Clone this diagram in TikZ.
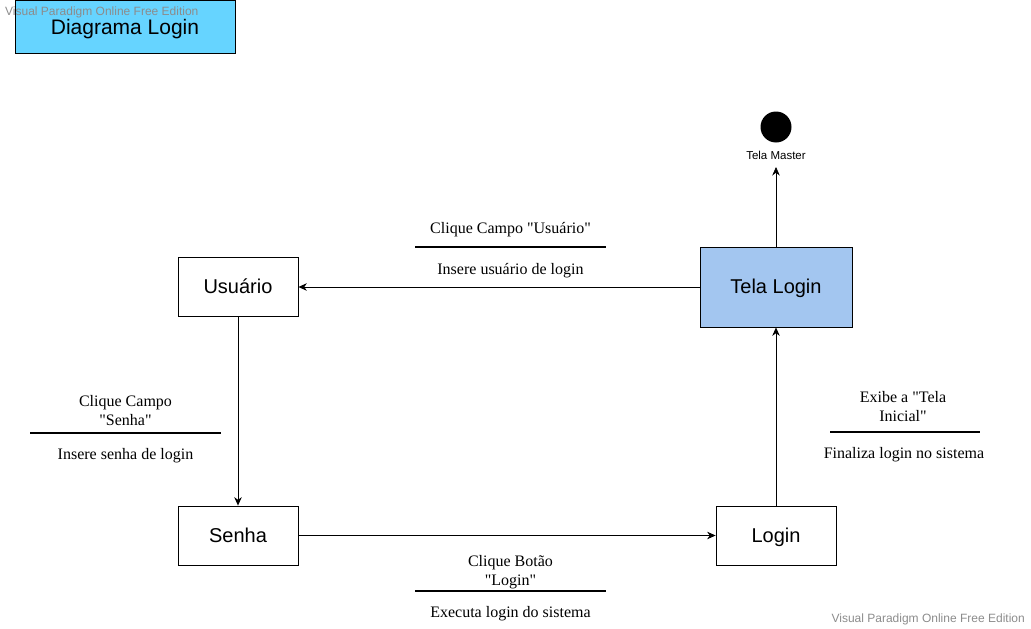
\documentclass[tikz,border=0pt]{standalone}
\usepackage{fontspec}
\setmainfont{Liberation Serif}
\setsansfont{Liberation Sans}
\usetikzlibrary{arrows.meta,positioning}
\definecolor{titlecyan}{RGB}{102,212,255}
\definecolor{telablue}{RGB}{163,198,240}
\definecolor{wmgray}{RGB}{140,140,140}

\begin{document}
\begin{tikzpicture}[x=1pt,y=-1pt,
    state/.style={draw, line width=0.8pt, minimum width=120pt, minimum height=59pt,
      inner sep=0pt, text height=18pt, text depth=4.2pt, font=\sffamily\fontsize{20}{24}\selectfont},
    msg/.style={align=center, inner sep=0pt, font=\fontsize{16}{19}\selectfont},
    barline/.style={fill=black, minimum height=2pt, inner sep=0pt},
    link/.style={-{Stealth[length=8.5pt,width=7.5pt]}, line width=0.7pt},
    wm/.style={text=wmgray, inner sep=0pt, font=\sffamily\fontsize{12}{14}\selectfont}]
    \useasboundingbox (0,0) rectangle (1031,629);
    \node [state, fill=titlecyan, minimum width=220pt, minimum height=53pt, text depth=1.5pt,
      font=\sffamily\fontsize{21}{25}\selectfont] (titulo) at (125,26.5) {Diagrama Login};
    \node [wm, anchor=west] (wmtop) at (5,12) {Visual Paradigm Online Free Edition};
    \node [wm, anchor=east] (wmbottom) at (1025,619) {Visual Paradigm Online Free Edition};

    \node [state, fill=telablue, minimum width=152pt, minimum height=80pt] (tela) at (776,287) {Tela Login};
    \node [state] (usuario) at (238,287) {Usuário};
    \node [state] (senha) at (238,535.5) {Senha};
    \node [state] (login) at (776,535.5) {Login};
    \node [circle, fill=black, minimum size=31pt, inner sep=0pt] (fim) at (776,127) {};
    \node [inner sep=0pt, font=\sffamily\fontsize{11.5}{13}\selectfont] (master) at (776,155) {Tela Master};
    \coordinate (masterIn) at (776,167);

    \draw [link] (tela) -- (usuario);
    \draw [link] (usuario) -- (senha);
    \draw [link] (senha) -- (login);
    \draw [link] (login) -- (tela);
    \draw [link] (tela) -- (masterIn);

    \node [barline, minimum width=191pt] (usuarioBar) at (510.5,247) {};
    \node [msg] (usuarioTop) at (510.5,230) {Clique Campo \textquotedbl Usuário\textquotedbl};
    \node [msg] (usuarioBot) at (510.5,271) {Insere usuário de login};

    \node [barline, minimum width=191pt] (senhaBar) at (125.5,433) {};
    \node [msg] (senhaTop) at (125.5,411) {Clique Campo\\\textquotedbl Senha\textquotedbl};
    \node [msg] (senhaBot) at (125.5,456) {Insere senha de login};

    \node [barline, minimum width=150pt] (loginBar) at (905,432) {};
    \node [msg] (loginTop) at (903,406.5) {Exibe a \textquotedbl Tela\\Inicial\textquotedbl};
    \node [msg] (loginBot) at (904,455) {Finaliza login no sistema};

    \node [barline, minimum width=191pt] (botaoBar) at (510.5,591) {};
    \node [msg] (botaoTop) at (510.5,572) {Clique Botão\\\textquotedbl Login\textquotedbl};
    \node [msg] (botaoBot) at (510.5,614) {Executa login do sistema};
\end{tikzpicture}
\end{document}
